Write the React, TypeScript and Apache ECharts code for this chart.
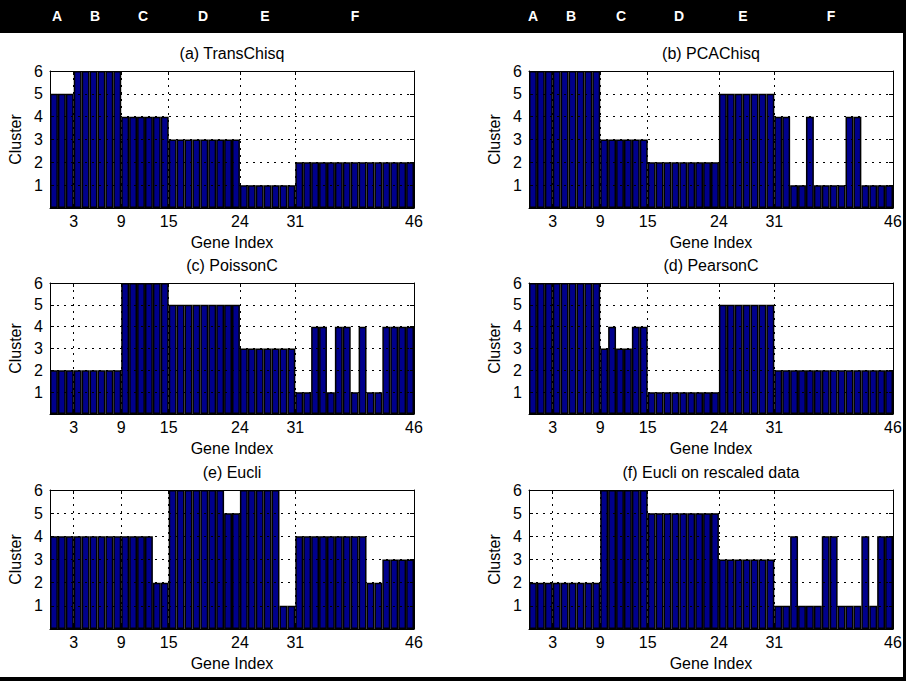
import React, { useEffect, useRef } from 'react';
import * as echarts from 'echarts';

// ---------- data ----------
const GENE_INDEX = Array.from({ length: 46 }, (_, i) => String(i + 1));
const X_TICKS = [3, 9, 15, 24, 31, 46];
const Y_MAX = 6;
const GROUP_LETTERS = ['A', 'B', 'C', 'D', 'E', 'F'];
const TITLES = [
  '(a) TransChisq',
  '(b) PCAChisq',
  '(c) PoissonC',
  '(d) PearsonC',
  '(e) Eucli',
  '(f) Eucli on rescaled data',
];

const TRANS_CHISQ = [
  5, 5, 5,
  6, 6, 6, 6, 6, 6,
  4, 4, 4, 4, 4, 4,
  3, 3, 3, 3, 3, 3, 3, 3, 3,
  1, 1, 1, 1, 1, 1, 1,
  2, 2, 2, 2, 2, 2, 2, 2, 2, 2, 2, 2, 2, 2, 2,
];
const PCA_CHISQ = [
  6, 6, 6,
  6, 6, 6, 6, 6, 6,
  3, 3, 3, 3, 3, 3,
  2, 2, 2, 2, 2, 2, 2, 2, 2,
  5, 5, 5, 5, 5, 5, 5,
  4, 4, 1, 1, 4, 1, 1, 1, 1, 4, 4, 1, 1, 1, 1,
];
const POISSON_C = [
  2, 2, 2,
  2, 2, 2, 2, 2, 2,
  6, 6, 6, 6, 6, 6,
  5, 5, 5, 5, 5, 5, 5, 5, 5,
  3, 3, 3, 3, 3, 3, 3,
  1, 1, 4, 4, 1, 4, 4, 1, 4, 1, 1, 4, 4, 4, 4,
];
const PEARSON_C = [
  6, 6, 6,
  6, 6, 6, 6, 6, 6,
  3, 4, 3, 3, 4, 4,
  1, 1, 1, 1, 1, 1, 1, 1, 1,
  5, 5, 5, 5, 5, 5, 5,
  2, 2, 2, 2, 2, 2, 2, 2, 2, 2, 2, 2, 2, 2, 2,
];
const EUCLI = [
  4, 4, 4,
  4, 4, 4, 4, 4, 4,
  4, 4, 4, 4, 2, 2,
  6, 6, 6, 6, 6, 6, 6, 5, 5,
  6, 6, 6, 6, 6, 1, 1,
  4, 4, 4, 4, 4, 4, 4, 4, 4, 2, 2, 3, 3, 3, 3,
];
const EUCLI_RESCALED = [
  2, 2, 2,
  2, 2, 2, 2, 2, 2,
  6, 6, 6, 6, 6, 6,
  5, 5, 5, 5, 5, 5, 5, 5, 5,
  3, 3, 3, 3, 3, 3, 3,
  1, 1, 4, 1, 1, 1, 4, 4, 1, 1, 1, 4, 1, 4, 4,
];
const PANEL_DATA = [TRANS_CHISQ, PCA_CHISQ, POISSON_C, PEARSON_C, EUCLI, EUCLI_RESCALED];

// ---------- layout ----------
const W = 906;
const H = 681;
const COL_LEFT = [50, 529];
const PLOT_W = 364;
const ROW_TOP = [71, 283, 490];
const ROW_H = [137, 131, 139];
const LETTER_X = [
  [57, 95, 143, 203, 265, 355],
  [533, 571, 621, 679, 743, 831],
];
const FONT = '"Liberation Sans", Arial, Helvetica, sans-serif';
const FS = 16;
const BAR_COLOR = '#00008C';

export default function App() {
  const ref = useRef<HTMLDivElement>(null);

  useEffect(() => {
    const chart = echarts.init(ref.current as HTMLDivElement, null, {
      renderer: 'svg',
      width: W,
      height: H,
    });

    const grids: any[] = [];
    const xAxes: any[] = [];
    const yAxes: any[] = [];
    const series: any[] = [];
    const titles: any[] = [];
    const textStyle = { color: '#000', fontSize: FS, fontFamily: FONT };
    const dotted = { color: '#000', width: 1, type: [2, 5] };

    PANEL_DATA.forEach((values, i) => {
      const col = i % 2;
      const row = Math.floor(i / 2);
      const left = COL_LEFT[col];
      const top = ROW_TOP[row];
      const h = ROW_H[row];
      grids.push({ left, top, width: PLOT_W, height: h, containLabel: false });

      titles.push({
        text: TITLES[i],
        left: left + PLOT_W / 2,
        top: top - 26,
        textAlign: 'center',
        padding: 0,
        textStyle: { ...textStyle, fontWeight: 'normal' },
      });

      const xBase = xAxes.length;
      xAxes.push({
        type: 'category',
        gridIndex: i,
        data: GENE_INDEX,
        show: false,
        position: 'bottom',
        boundaryGap: true,
      });
      xAxes.push({
        type: 'value',
        gridIndex: i,
        min: 0,
        max: 46,
        position: 'bottom',
        z: 5,
        axisLine: { show: true, onZero: false, lineStyle: { color: '#000', width: 1 } },
        axisTick: { show: true, inside: true, length: 4, customValues: X_TICKS, lineStyle: { color: '#000' } },
        axisLabel: { show: true, customValues: X_TICKS, margin: 5, ...textStyle },
        splitLine: { show: true, lineStyle: dotted },
        name: 'Gene Index',
        nameLocation: 'middle',
        nameGap: 26,
        nameTextStyle: textStyle,
      });
      xAxes.push({
        type: 'value',
        gridIndex: i,
        min: 0,
        max: 46,
        position: 'top',
        z: 5,
        axisLine: { show: true, onZero: false, lineStyle: { color: '#000', width: 1 } },
        axisTick: { show: true, inside: true, length: 4, customValues: X_TICKS, lineStyle: { color: '#000' } },
        axisLabel: { show: false },
        splitLine: { show: false },
      });

      const yBase = yAxes.length;
      yAxes.push({
        type: 'value',
        gridIndex: i,
        min: 0,
        max: Y_MAX,
        interval: 1,
        position: 'left',
        z: 5,
        axisLine: { show: true, onZero: false, lineStyle: { color: '#000', width: 1 } },
        axisTick: { show: true, inside: true, length: 4, lineStyle: { color: '#000' } },
        axisLabel: {
          show: true,
          margin: 7,
          formatter: (v: number) => (v === 0 ? '' : String(v)),
          ...textStyle,
        },
        splitLine: { show: true, lineStyle: dotted },
        name: 'Cluster',
        nameLocation: 'middle',
        nameGap: 27,
        nameRotate: 90,
        nameTextStyle: textStyle,
      });
      yAxes.push({
        type: 'value',
        gridIndex: i,
        min: 0,
        max: Y_MAX,
        interval: 1,
        position: 'right',
        z: 5,
        axisLine: { show: true, onZero: false, lineStyle: { color: '#000', width: 1 } },
        axisTick: { show: true, inside: true, length: 4, lineStyle: { color: '#000' } },
        axisLabel: { show: false },
        splitLine: { show: false },
      });

      series.push({
        type: 'bar',
        name: TITLES[i],
        xAxisIndex: xBase,
        yAxisIndex: yBase,
        data: values,
        barWidth: '100%',
        barCategoryGap: '0%',
        silent: true,
        z: 2,
        itemStyle: { color: BAR_COLOR, borderColor: '#000', borderWidth: 1.5 },
      });
    });

    const graphic: any[] = [
      { type: 'rect', shape: { x: 0, y: 0, width: W, height: 33 }, style: { fill: '#000' }, silent: true },
      { type: 'rect', shape: { x: 903, y: 0, width: 3, height: H }, style: { fill: '#000' }, silent: true },
      { type: 'rect', shape: { x: 0, y: 677, width: W, height: 4 }, style: { fill: '#000' }, silent: true },
    ];
    LETTER_X.forEach((xs) => {
      xs.forEach((x, k) => {
        graphic.push({
          type: 'text',
          x,
          y: 16,
          silent: true,
          style: {
            text: GROUP_LETTERS[k],
            fill: '#fff',
            font: `bold 14px ${FONT}`,
            textAlign: 'center',
            textVerticalAlign: 'middle',
          },
        });
      });
    });

    chart.setOption({
      animation: false,
      backgroundColor: '#fff',
      title: titles,
      grid: grids,
      xAxis: xAxes,
      yAxis: yAxes,
      series,
      graphic,
    });

    return () => chart.dispose();
  }, []);

  return (
    <div
      ref={ref}
      style={{ position: 'fixed', left: 0, top: 0, width: W, height: H }}
    />
  );
}
